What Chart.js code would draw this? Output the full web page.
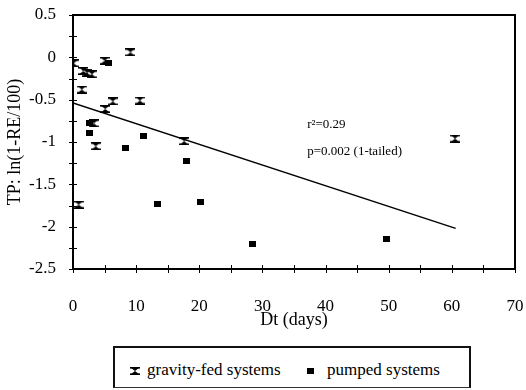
<!DOCTYPE html>
<html>
<head>
<meta charset="utf-8">
<script src="https://cdn.jsdelivr.net/npm/chart.js"></script>
<style>
    body { margin: 0; background: #fff; font-family: 'Liberation Serif', serif; }
    #wrap { position: relative; width: 526px; height: 390px; }
    #chart { position: absolute; left: 0; top: 0; }
    #legend {
        position: absolute; left: 113px; top: 346px; width: 354px; height: 39px;
        border: 1px solid #333; border-top: 2px solid #111; border-left: 2px solid #111; border-right: 2px solid #111;
        font-family: 'Liberation Serif', serif; font-size: 17px; color: #000;
    }
    #legend span, #legend canvas { position: absolute; }
</style>
</head>
<body>
<div id="wrap">
    <canvas id="chart" width="526" height="335"></canvas>
    <div id="legend"></div>
</div>
<script>
// gravity-fed systems
var gravityX = [0.1, 1.65, 2.2, 3.0, 5.0, 9.1, 1.4, 10.6, 6.3, 5.1, 3.3, 3.6, 17.6, 0.9, 60.5];
var gravityY = [-0.07, -0.16, -0.18, -0.2, -0.04, 0.06, -0.38, -0.51, -0.52, -0.61, -0.78, -1.05, -0.99, -1.74, -0.96];
// pumped systems
var pumpedX = [5.6, 2.6, 2.6, 11.1, 8.3, 18.0, 13.4, 20.2, 28.5, 49.6];
var pumpedY = [-0.07, -0.78, -0.89, -0.93, -1.07, -1.23, -1.73, -1.71, -2.21, -2.15];
// regression line ends
var fitX = [0, 60.6];
var fitY = [-0.54, -2.02];

var xMin = 0, xMax = 70, xStep = 5, xLabelStep = 10;
var yMin = -2.5, yMax = 0.5, yStep = 0.25, yLabelStep = 0.5;

var notes = ["r\u00b2=0.29", "p=0.002 (1-tailed)"];
var noteX = [37.1, 37.1];
var noteY = [-0.8, -1.11];

function toPoints(xs, ys) {
    return xs.map(function(x, i) { return { x: x, y: ys[i] }; });
}

// hourglass marker
function hourglass() {
    var c = document.createElement("canvas");
    c.width = 10; c.height = 8;
    var g = c.getContext("2d");
    g.fillStyle = "#000";
    g.fillRect(0, 0, 10, 1.6);
    g.fillRect(0, 6.4, 10, 1.6);
    g.beginPath();
    g.moveTo(1.2, 1); g.lineTo(8.8, 1); g.lineTo(5, 4); g.closePath();
    g.moveTo(1.2, 7); g.lineTo(8.8, 7); g.lineTo(5, 4); g.closePath();
    g.fill();
    return c;
}
function square() {
    var c = document.createElement("canvas");
    c.width = 7; c.height = 6;
    var g = c.getContext("2d");
    g.fillStyle = "#000";
    g.fillRect(0, 0, 7, 6);
    return c;
}

var isMult = function(v, s) { return Math.abs(v / s - Math.round(v / s)) < 1e-6; };

// ticks crossing the axes, frame and the notes
var extras = {
    id: "extras",
    afterDraw: function(chart) {
        var ctx = chart.ctx, a = chart.chartArea;
        var xs = chart.scales.x, ys = chart.scales.y;
        var l = Math.round(a.left), t = Math.round(a.top), r = Math.round(a.right), b = Math.round(a.bottom);
        ctx.save();
        ctx.fillStyle = "#000";
        // frame as filled strips
        ctx.fillRect(l - 1, t - 1, r - l + 2, 2);
        ctx.fillRect(l - 1, b - 1, r - l + 2, 2);
        ctx.fillRect(l - 1, t - 1, 2, b - t + 2);
        ctx.fillRect(r - 1, t - 1, 2, b - t + 2);
        xs.ticks.forEach(function(tk) {
            var px = Math.round(xs.getPixelForValue(tk.value));
            ctx.fillRect(px, b - 4, 1, 8);
        });
        ys.ticks.forEach(function(tk) {
            var py = Math.round(ys.getPixelForValue(tk.value));
            ctx.fillRect(l - 4, py, 8, 1);
        });
        ctx.font = "13px 'Liberation Serif', serif";
        ctx.textAlign = "left";
        ctx.textBaseline = "middle";
        notes.forEach(function(n, i) {
            ctx.fillText(n, xs.getPixelForValue(noteX[i]), ys.getPixelForValue(noteY[i]));
        });
        ctx.restore();
    }
};

var gMark = hourglass(), pMark = square();
var serif17 = { family: "'Liberation Serif', serif", size: 17 };
var serif18 = { family: "'Liberation Serif', serif", size: 18 };

new Chart(document.getElementById("chart"), {
    type: "scatter",
    data: {
        datasets: [
            { label: "gravity-fed systems", data: toPoints(gravityX, gravityY), pointStyle: gMark, pointRadius: 5 },
            { label: "pumped systems", data: toPoints(pumpedX, pumpedY), pointStyle: pMark, pointRadius: 4 },
            { label: "fit", data: toPoints(fitX, fitY), showLine: true, borderColor: "#000", borderWidth: 1.5, pointRadius: 0 }
        ]
    },
    plugins: [extras],
    options: {
        responsive: false,
        animation: false,
        devicePixelRatio: 1,
        layout: { padding: { left: 0, right: 11, top: 15, bottom: 0 } },
        plugins: { legend: { display: false }, tooltip: { enabled: false } },
        scales: {
            x: {
                type: "linear", min: xMin, max: xMax,
                grid: { display: false },
                border: { display: false },
                ticks: {
                    stepSize: xStep, padding: 19, color: "#000", maxRotation: 0, autoSkip: false,
                    font: serif17,
                    callback: function(v) { return isMult(v, xLabelStep) ? String(v) : ""; }
                },
                title: { display: true, text: "Dt (days)", color: "#000", font: serif18, padding: { top: 0, bottom: 4 } },
                afterFit: function(s) { s.height = 335 - 269; s.paddingLeft = 0; s.paddingRight = 0; }
            },
            y: {
                type: "linear", min: yMin, max: yMax,
                grid: { display: false },
                border: { display: false },
                ticks: {
                    stepSize: yStep, padding: 9, color: "#000", autoSkip: false,
                    font: serif17,
                    callback: function(v) { return isMult(v, yLabelStep) ? String(Math.round(v * 10) / 10) : ""; }
                },
                title: { display: true, text: "TP: ln(1-RE/100)", color: "#000", font: serif18, padding: { top: 4, bottom: 0 } },
                afterFit: function(s) { s.width = 73; s.paddingTop = 0; s.paddingBottom = 0; }
            }
        }
    }
});

// legend
var legend = document.getElementById("legend");
var items = [
    { mark: hourglass(), text: "gravity-fed systems", mx: 15, tx: 32 },
    { mark: square(), text: "pumped systems", mx: 192, tx: 212 }
];
items.forEach(function(it) {
    it.mark.style.left = it.mx + "px";
    it.mark.style.top = (23 - it.mark.height / 2) + "px";
    legend.appendChild(it.mark);
    var s = document.createElement("span");
    s.textContent = it.text;
    s.style.left = it.tx + "px";
    s.style.top = "12px";
    legend.appendChild(s);
});
</script>
</body>
</html>
